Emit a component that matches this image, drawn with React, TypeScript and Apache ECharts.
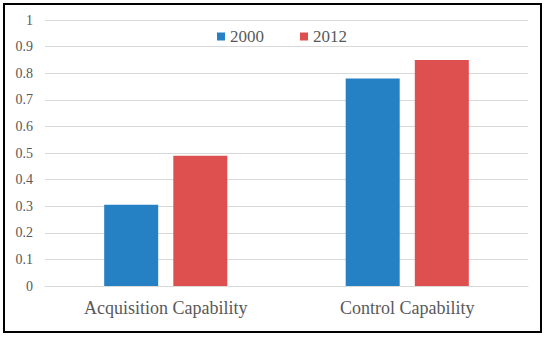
import React, { useEffect, useRef } from "react";
import * as echarts from "echarts";

const categories = ["Acquisition Capability", "Control Capability"];
const series2000 = [0.305, 0.78];
const series2012 = [0.49, 0.85];
const yTicks = [0, 0.1, 0.2, 0.3, 0.4, 0.5, 0.6, 0.7, 0.8, 0.9, 1];

export default function App() {
  const ref = useRef<HTMLDivElement>(null);
  useEffect(() => {
    document.body.style.margin = "0";
    const chart = echarts.init(ref.current!, null, { renderer: "svg" });
    const font = "Times New Roman, Liberation Serif, serif";
    chart.setOption({
      animation: false,
      backgroundColor: "#ffffff",
      textStyle: { fontFamily: font },
      graphic: [
        {
          type: "rect",
          shape: { x: 4, y: 4, width: 537, height: 328 },
          style: { fill: "none", stroke: "#000000", lineWidth: 2 },
          silent: true,
        },
      ],
      legend: {
        left: 212,
        top: 23,
        itemWidth: 8,
        itemHeight: 8,
        itemGap: 36,
        icon: "rect",
        textStyle: { fontFamily: font, fontSize: 17, color: "#595959" },
        data: ["2000", "2012"],
      },
      grid: { left: 45, right: 22, top: 20, bottom: 52, containLabel: false },
      xAxis: {
        type: "category",
        data: categories,
        axisLine: { show: true, lineStyle: { color: "#d9d9d9", width: 1 } },
        axisTick: { show: false },
        axisLabel: { fontFamily: font, fontSize: 18, color: "#595959", margin: 13 },
      },
      yAxis: {
        type: "value",
        min: 0,
        max: 1,
        interval: 0.1,
        axisLine: { show: false },
        axisTick: { show: false },
        splitLine: { lineStyle: { color: "#d9d9d9", width: 1 } },
        axisLabel: {
          fontFamily: font,
          fontSize: 14,
          color: "#595959",
          margin: 12,
          formatter: (v: number) => {
            const t = yTicks.find((x) => Math.abs(x - v) < 1e-9);
            return t === undefined ? "" : String(t);
          },
        },
      },
      series: [
        {
          name: "2000",
          type: "bar",
          data: series2000,
          itemStyle: { color: "#2581c4" },
          barWidth: 54,
          barGap: "28%",
        },
        {
          name: "2012",
          type: "bar",
          data: series2012,
          itemStyle: { color: "#de4f4f" },
          barWidth: 54,
          barGap: "28%",
        },
      ],
    });
    return () => chart.dispose();
  }, []);
  return <div ref={ref} style={{ width: 550, height: 338 }} />;
}
